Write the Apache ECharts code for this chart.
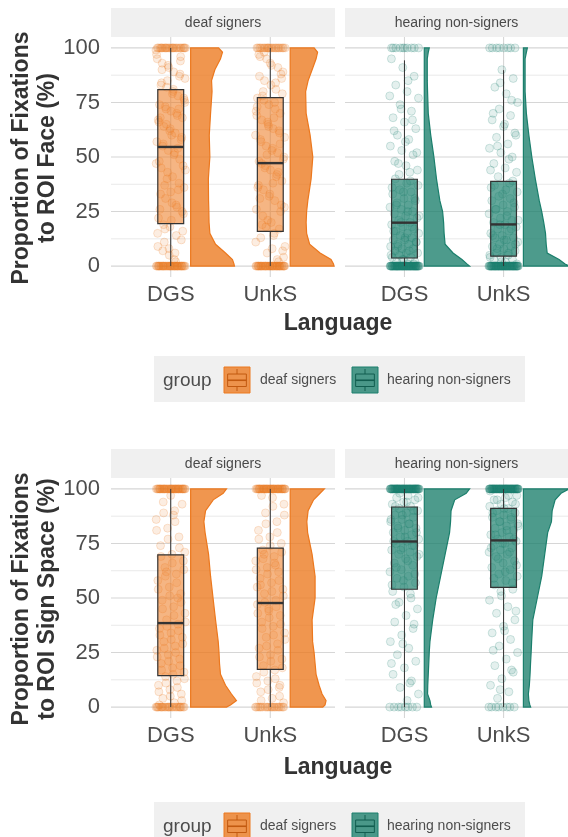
<!DOCTYPE html>
<html>
<head>
<meta charset="utf-8">
<script src="https://cdn.jsdelivr.net/npm/echarts@6.0.0/dist/echarts.min.js"></script>
<style>
html, body { margin: 0; padding: 0; background: #fff; }
#main { width: 568px; height: 837px; }
</style>
</head>
<body>
<div id="main"></div>
<script>
var FONT = '"Liberation Sans", Arial, sans-serif';
var languages = ['DGS', 'UnkS'];
var groups = ['deaf signers', 'hearing non-signers'];
var groupColors = ['#EC781E', '#1B7F6C'];
var groupFills = ['rgba(236,120,30,0.78)', 'rgba(27,127,108,0.78)'];
var groupBoxFills = ['rgba(236,120,30,0.55)', 'rgba(27,127,108,0.68)'];
var groupDark = ['#C25A10', '#125E50'];
var yTicks = [0, 25, 50, 75, 100];
var yMinor = [12.5, 37.5, 62.5, 87.5];

// box stats per language: [min, q1, median, q3, max]
var boxFaceDeaf = [[0, 19.5, 54.6, 80.9, 100], [0, 15.9, 47.2, 77.2, 100]];
var boxFaceHear = [[0, 3.7, 19.9, 39.8, 94.3], [0, 4.6, 19.1, 38.8, 89.8]];
var boxSignDeaf = [[0, 14.4, 38.5, 69.8, 100], [0, 17.3, 47.7, 72.9, 100]];
var boxSignHear = [[0, 54.0, 75.9, 91.7, 100], [0, 54.9, 76.4, 91.1, 100]];

// half violin widths (hundredths of a category step) at these levels
var violinLevels = [0, 1, 3, 6, 10, 15, 20, 25, 30, 40, 50, 60, 70, 80, 85, 90, 95, 98, 100];
var violinFaceDeaf = [
  [44, 43.5, 42, 35, 25, 19.3, 18.5, 18.3, 18, 17.8, 19.3, 18.7, 20, 21.5, 21, 24.3, 30, 32, 28],
  [44, 43.5, 41, 30, 19.5, 16.5, 16, 16.5, 17.7, 21, 22.7, 20, 16, 15.5, 18, 22, 26, 27.5, 24]
];
var violinFaceHear = [
  [45.7, 43, 38, 29, 21, 20, 19.5, 18.5, 15.7, 12.3, 9.7, 6.5, 4, 3.3, 3, 3, 3, 4, 5],
  [46, 42, 36, 24, 23, 22.3, 20.5, 18.5, 16, 12, 8.5, 5.5, 3, 1.7, 1.7, 1.7, 1.7, 3, 4]
];
var violinSignDeaf = [
  [36, 40, 46, 41, 35, 30, 29, 28.5, 27.7, 25, 22.5, 20, 18, 14.5, 13.3, 15, 22.7, 32.7, 36],
  [32.7, 35, 36, 32, 29, 26, 25, 24, 22.5, 22, 25, 25, 22, 17.5, 16.7, 18, 23.5, 30, 34.3]
];
var violinSignHear = [
  [7.3, 6.5, 5.7, 3.3, 3.5, 4, 4.5, 5, 5.7, 8.5, 12, 16.5, 21, 25.5, 26.5, 27, 30.7, 42.3, 45.7],
  [7.3, 6.5, 5.5, 5, 6, 6.7, 7.2, 7.8, 8.3, 9.5, 14, 18.5, 21.5, 24.5, 28.3, 29, 32, 38, 46]
];

// individual observations (between 0 and 100), plus counts sitting at 0 and 100
var ptsFaceDeaf = [
  [3,7,12,18,22,27,31,36,41,45,49,53,57,61,64,68,71,74,78,82,86,89,93,96,5,9,14,17,24,29,33,38,43,47,52,56,59,63,66,69,72,76,80,84,88,91,95,2,11,16,21,26,35,40,44,51,55,58,62,67,70,73,77,79,83,87,92,97,6,19,25,34,48,54,65,75,81,90,94,8,15,28,37,46,60,68,72,85,99],
  [4,8,13,17,21,26,30,35,39,44,48,52,55,59,63,67,70,74,77,81,85,89,92,96,2,6,11,15,23,28,33,37,42,46,50,54,57,61,65,69,72,76,79,83,87,91,95,9,14,19,25,32,36,41,45,49,53,58,62,66,71,75,80,86,93,97,3,18,27,38,47,56,64,73,84,98,7,20,31,43,51,60,68,78,88]
];
var zeroFaceDeaf = [40, 42];
var fullFaceDeaf = [25, 22];
var ptsFaceHear = [
  [1,2,2,3,4,4,5,6,6,7,8,8,9,10,10,11,12,12,13,14,15,15,16,17,18,19,20,21,22,23,24,25,26,27,28,29,30,31,33,34,35,37,38,40,1,3,5,7,9,11,13,16,18,20,23,25,28,31,34,36,39,42,44,46,48,51,53,55,58,60,63,66,68,71,74,77,80,83,87,91,95,43,47,52,57,62,67,72,78,85],
  [1,2,3,3,4,5,5,6,7,8,9,9,10,11,12,13,13,14,15,16,17,18,19,20,21,22,24,25,26,27,28,30,31,32,34,35,37,39,2,4,6,8,10,12,14,17,19,21,23,26,29,33,36,38,41,43,45,47,50,52,54,56,59,61,64,67,69,72,75,79,82,86,90,44,49,55,60,65,70,76,84]
];
var zeroFaceHear = [70, 68];
var fullFaceHear = [10, 8];
var ptsSignDeaf = [
  [2,4,6,8,10,12,14,16,18,20,22,24,26,28,30,32,34,36,38,40,43,46,49,52,55,58,61,64,67,70,74,78,82,86,90,94,3,5,7,9,11,13,15,17,19,21,23,25,27,29,31,33,35,37,39,42,45,48,51,54,57,60,63,66,69,73,77,81,85,89,93,97,1,50,62,71,88],
  [2,4,7,9,12,14,17,19,22,24,27,29,32,34,37,39,42,44,47,49,52,54,57,59,62,64,67,69,72,75,78,81,85,89,93,96,3,5,8,11,13,16,18,21,23,26,28,31,33,36,38,41,43,46,48,51,53,56,58,61,63,66,68,71,74,77,80,84,88,92,97,10,45,55,65,70]
];
var zeroSignDeaf = [25, 20];
var fullSignDeaf = [40, 42];
var ptsSignHear = [
  [97,96,95,94,93,92,91,90,89,88,87,86,85,84,83,82,81,80,79,78,77,76,75,74,73,72,71,70,69,68,66,65,63,62,60,59,57,55,53,50,98,96,94,92,90,88,86,84,82,80,78,76,74,72,70,67,64,61,58,56,52,48,45,42,39,36,33,30,27,24,21,18,15,12,9,6,3,47,38,29,20,11],
  [97,96,95,94,93,92,91,90,89,88,87,86,85,84,83,82,81,80,79,78,77,76,75,74,73,72,71,70,69,67,66,64,63,61,60,58,56,54,51,99,97,95,93,91,89,87,85,83,81,79,77,75,73,71,68,65,62,59,57,53,49,46,43,40,37,34,31,28,25,22,19,16,13,10,7,4,44,35,26,17,8]
];
var zeroSignHear = [8, 8];
var fullSignHear = [70, 70];

var facets = [
  { group: 0, box: boxFaceDeaf, violin: violinFaceDeaf, pts: ptsFaceDeaf, zeros: zeroFaceDeaf, full: fullFaceDeaf },
  { group: 1, box: boxFaceHear, violin: violinFaceHear, pts: ptsFaceHear, zeros: zeroFaceHear, full: fullFaceHear },
  { group: 0, box: boxSignDeaf, violin: violinSignDeaf, pts: ptsSignDeaf, zeros: zeroSignDeaf, full: fullSignDeaf },
  { group: 1, box: boxSignHear, violin: violinSignHear, pts: ptsSignHear, zeros: zeroSignHear, full: fullSignHear }
];

var gridBoxes = [
  { left: 111, top: 37, width: 224, height: 240 },
  { left: 345, top: 37, width: 223, height: 240 },
  { left: 111, top: 478, width: 224, height: 240 },
  { left: 345, top: 478, width: 223, height: 240 }
];

// horizontal jitter, spread evenly with the golden ratio
function jit(i) {
  return (((i + 1) * 0.6180339887) % 1 - 0.5) * 0.3;
}

function pointData(f) {
  var out = [];
  for (var li = 0; li < 2; li++) {
    var vals = f.pts[li].slice();
    for (var a = 0; a < f.zeros[li]; a++) vals.push(0);
    for (var b = 0; b < f.full[li]; b++) vals.push(100);
    vals.forEach(function (v, i) {
      out.push([li + 1 + jit(i + li * 7), v]);
    });
  }
  return out;
}

function renderGrid(params, api) {
  var cs = params.coordSys;
  var kind = api.value(0), v = api.value(1);
  var major = kind === 1 || yTicks.indexOf(v) >= 0;
  var shape;
  if (kind === 0) {
    var p = api.coord([1, v]);
    shape = { x1: cs.x, y1: p[1], x2: cs.x + cs.width, y2: p[1] };
  } else {
    var q = api.coord([v, 50]);
    shape = { x1: q[0], y1: cs.y, x2: q[0], y2: cs.y + cs.height };
  }
  return {
    type: 'line', shape: shape,
    style: { stroke: major ? '#d6d6d6' : '#e3e3e3', lineWidth: major ? 1.1 : 0.8 }
  };
}

function makeBoxRender(fill) {
  return function (params, api) {
    var x = api.value(0), hw = 0.13;
    var pMin = api.coord([x, api.value(1)]);
    var pQ1 = api.coord([x - hw, api.value(2)]);
    var pMed = api.coord([x - hw, api.value(3)]);
    var pQ3 = api.coord([x + hw, api.value(4)]);
    var pMax = api.coord([x, api.value(5)]);
    return {
      type: 'group',
      children: [
        { type: 'line', shape: { x1: pMin[0], y1: pMin[1], x2: pMin[0], y2: pQ1[1] }, style: { stroke: '#333', lineWidth: 1 } },
        { type: 'line', shape: { x1: pMax[0], y1: pMax[1], x2: pMax[0], y2: pQ3[1] }, style: { stroke: '#333', lineWidth: 1 } },
        { type: 'rect', shape: { x: pQ1[0], y: pQ3[1], width: pQ3[0] - pQ1[0], height: pQ1[1] - pQ3[1] },
          style: { fill: fill, stroke: '#333', lineWidth: 1.2 } },
        { type: 'line', shape: { x1: pQ1[0], y1: pMed[1], x2: pQ3[0], y2: pMed[1] }, style: { stroke: '#333', lineWidth: 2.4 } }
      ]
    };
  };
}

function makeViolinRender(profiles, color, fill) {
  return function (params, api) {
    var x0 = api.value(0) + 0.2;
    var w = profiles[params.dataIndex];
    var pts = [api.coord([x0, 0])];
    for (var k = 0; k < violinLevels.length; k++) {
      pts.push(api.coord([x0 + w[k] / 100, violinLevels[k]]));
    }
    pts.push(api.coord([x0, 100]));
    return { type: 'polygon', shape: { points: pts }, style: { fill: fill, stroke: color, lineWidth: 1.2 } };
  };
}

var grids = [], xAxes = [], yAxes = [], series = [];
var gridData = yTicks.concat(yMinor).map(function (v) { return [0, v]; }).concat([[1, 1], [1, 2]]);

facets.forEach(function (f, gi) {
  var g = f.group;
  var c = groupColors[g];
  grids.push(gridBoxes[gi]);
  xAxes.push({
    gridIndex: gi, type: 'value', min: 0.4, max: 2.65,
    axisLine: { show: false }, axisTick: { show: false }, splitLine: { show: false },
    axisLabel: {
      customValues: [1, 2], margin: 7, fontSize: 22, color: '#4d4d4d', fontFamily: FONT,
      formatter: function (v) { return languages[Math.round(v) - 1]; }
    }
  });
  yAxes.push({
    gridIndex: gi, type: 'value', min: -5, max: 105,
    axisLine: { show: false }, axisTick: { show: false }, splitLine: { show: false },
    axisLabel: {
      show: gi % 2 === 0, customValues: yTicks, margin: 11, fontSize: 22, color: '#4d4d4d', fontFamily: FONT
    }
  });
  series.push({
    type: 'custom', xAxisIndex: gi, yAxisIndex: gi, silent: true, z: 1,
    renderItem: renderGrid, data: gridData
  });
  series.push({
    type: 'scatter', name: groups[g], xAxisIndex: gi, yAxisIndex: gi, silent: true, z: 2,
    symbolSize: 8, data: pointData(f),
    itemStyle: {
      color: g === 0 ? 'rgba(236,120,30,0.17)' : 'rgba(27,127,108,0.15)',
      borderColor: g === 0 ? 'rgba(236,120,30,0.3)' : 'rgba(27,127,108,0.3)',
      borderWidth: 0.8
    }
  });
  series.push({
    type: 'custom', xAxisIndex: gi, yAxisIndex: gi, silent: true, z: 3, clip: true,
    renderItem: makeViolinRender(f.violin, c, groupFills[g]),
    data: [[1, 0], [2, 100]]
  });
  series.push({
    type: 'custom', xAxisIndex: gi, yAxisIndex: gi, silent: true, z: 4,
    renderItem: makeBoxRender(groupBoxFills[g]),
    encode: { x: 0, y: [1, 2, 3, 4, 5] },
    data: f.box.map(function (s, li) { return [li + 1].concat(s); })
  });
});

// strips, titles and legends
var graphics = [];
function stripFor(gi, label, top, h) {
  var b = gridBoxes[gi];
  graphics.push({ type: 'rect', shape: { x: b.left, y: top, width: b.width, height: h }, style: { fill: '#f0f0f0' }, silent: true });
  graphics.push({ type: 'text', x: b.left + b.width / 2, y: top + h / 2 + 1,
    style: { text: label, font: '14px ' + FONT, fill: '#4a4a4a', textAlign: 'center', textVerticalAlign: 'middle' } });
}
stripFor(0, groups[0], 8, 29);
stripFor(1, groups[1], 8, 29);
stripFor(2, groups[0], 449, 29);
stripFor(3, groups[1], 449, 29);

function yTitle(lines, cy) {
  graphics.push({ type: 'text', x: 22, y: cy, rotation: Math.PI / 2,
    style: { text: lines[0], font: 'bold 23px ' + FONT, fill: '#333', textAlign: 'center', textVerticalAlign: 'middle' } });
  graphics.push({ type: 'text', x: 48, y: cy, rotation: Math.PI / 2,
    style: { text: lines[1], font: 'bold 23px ' + FONT, fill: '#333', textAlign: 'center', textVerticalAlign: 'middle' } });
}
yTitle(['Proportion of Fixations', 'to ROI Face (%)'], 158);
yTitle(['Proportion of Fixations', 'to ROI Sign Space (%)'], 599);

function xTitle(cy) {
  graphics.push({ type: 'text', x: 338, y: cy,
    style: { text: 'Language', font: 'bold 23px ' + FONT, fill: '#333', textAlign: 'center', textVerticalAlign: 'middle' } });
}
xTitle(324);
xTitle(768);

function legendKey(x, y, w, h, g) {
  var dark = groupDark[g], cx = x + w / 2;
  graphics.push({ type: 'rect', shape: { x: x, y: y, width: w, height: h }, style: { fill: groupFills[g], stroke: groupColors[g], lineWidth: 1 } });
  graphics.push({ type: 'line', shape: { x1: cx, y1: y + 2, x2: cx, y2: y + h * 0.27 }, style: { stroke: dark, lineWidth: 1 } });
  graphics.push({ type: 'rect', shape: { x: x + w * 0.14, y: y + h * 0.27, width: w * 0.72, height: h * 0.48 }, style: { fill: 'none', stroke: dark, lineWidth: 1 } });
  graphics.push({ type: 'line', shape: { x1: x + w * 0.14, y1: y + h * 0.51, x2: x + w * 0.86, y2: y + h * 0.51 }, style: { stroke: dark, lineWidth: 1.6 } });
  graphics.push({ type: 'line', shape: { x1: cx, y1: y + h * 0.75, x2: cx, y2: y + h - 2 }, style: { stroke: dark, lineWidth: 1 } });
}
function legendBlock(top) {
  graphics.push({ type: 'rect', shape: { x: 154, y: top, width: 371, height: 46 }, style: { fill: '#f0f0f0' } });
  graphics.push({ type: 'text', x: 163, y: top + 25,
    style: { text: 'group', font: '19px ' + FONT, fill: '#4d4d4d', textAlign: 'left', textVerticalAlign: 'middle' } });
  legendKey(224, top + 11, 26, 26, 0);
  graphics.push({ type: 'text', x: 260, y: top + 24,
    style: { text: groups[0], font: '14px ' + FONT, fill: '#4d4d4d', textAlign: 'left', textVerticalAlign: 'middle' } });
  legendKey(352, top + 11, 26, 26, 1);
  graphics.push({ type: 'text', x: 387, y: top + 24,
    style: { text: groups[1], font: '14px ' + FONT, fill: '#4d4d4d', textAlign: 'left', textVerticalAlign: 'middle' } });
}
legendBlock(356);
legendBlock(802);

var chart = echarts.init(document.getElementById('main'), null, { renderer: 'canvas' });
chart.setOption({
  animation: false,
  backgroundColor: '#ffffff',
  textStyle: { fontFamily: FONT },
  grid: grids,
  xAxis: xAxes,
  yAxis: yAxes,
  series: series,
  graphic: { elements: graphics }
});
window.addEventListener('resize', function () { chart.resize(); });
</script>
</body>
</html>
